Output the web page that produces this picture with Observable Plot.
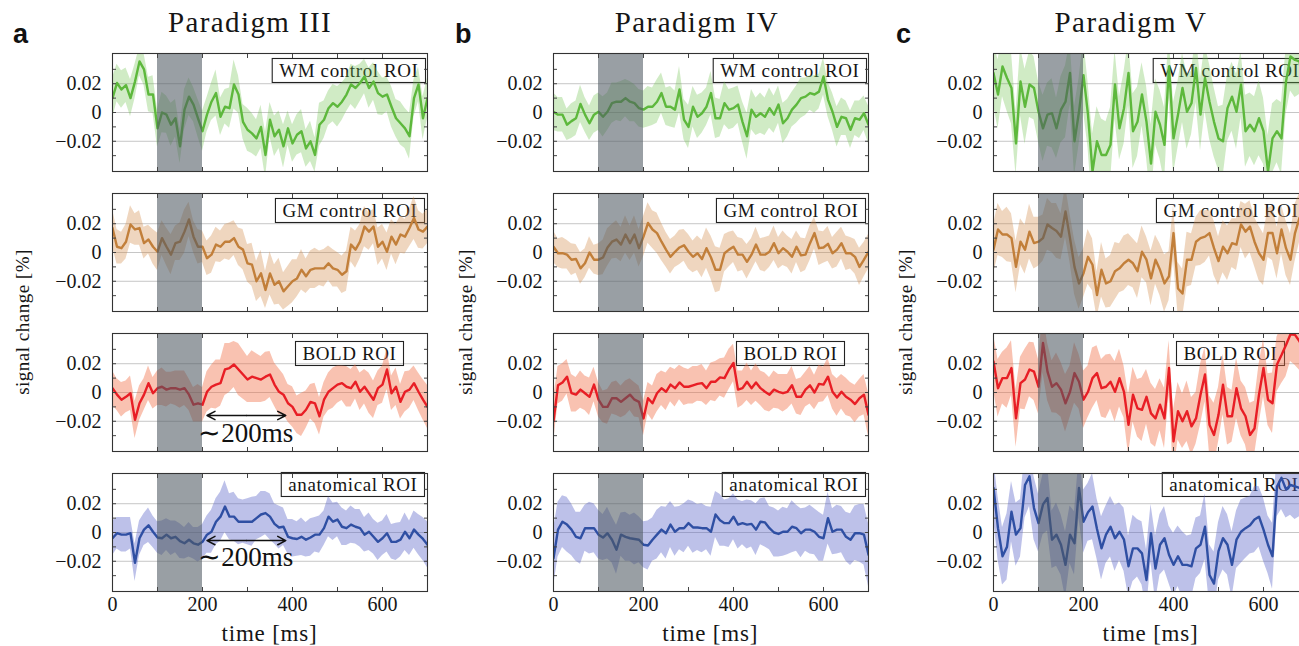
<!DOCTYPE html>
<html><head><meta charset="utf-8">
<script src="https://cdn.jsdelivr.net/npm/d3@7"></script>
<script src="https://cdn.jsdelivr.net/npm/@observablehq/plot@0.6"></script>
<style>
html,body{margin:0;padding:0;background:#fff;overflow:hidden;}
#fig{position:relative;width:1299px;height:646px;overflow:hidden;background:#fff;}
</style></head><body><div id="fig"></div>
<script>
// ---------- labels / categories ----------
const paradigms = ["Paradigm III", "Paradigm IV", "Paradigm V"];
const panelLetters = ["a", "b", "c"];
const roiLabels = ["WM control ROI", "GM control ROI", "BOLD ROI", "anatomical ROI"];
const yTicks = [-0.02, 0, 0.02];
const yMinorTicks = [-0.03, -0.02, -0.01, 0, 0.01, 0.02, 0.03];
const xTicks = [0, 200, 400, 600];
const xMinorTicks = [0, 100, 200, 300, 400, 500, 600, 700];
const stimulus = [100, 200];            // grey stimulus window (ms)
const time = d3.range(0, 701, 10);      // sample times (ms)

// ---------- Paradigm III ----------
const p3_wm = [0.01,0.0205,0.016,0.019,0.01,0.0215,0.0355,0.03,0.0125,0.0125,
 -0.011,0,-0.0015,-0.0085,-0.004,-0.0235,0.002,0.011,0.0055,-0.004,
 -0.013,-0.0015,0.0075,0.0135,-0.003,0.004,0.003,0.0195,0.0125,-0.0065,
 -0.012,-0.0145,-0.018,-0.01,-0.0295,-0.005,-0.0165,-0.012,-0.0235,-0.011,
 -0.0215,-0.0155,-0.013,-0.025,-0.02,-0.0295,-0.0085,-0.005,0.003,0.0065,
 0.004,0.0075,0.0125,0.0195,0.017,0.0205,0.025,0.017,0.0215,0.0135,
 0.011,0.0125,0.004,-0.004,-0.0075,-0.011,-0.0165,0.01,0.0195,-0.004,
 0.01];
const p3_gm = [0.017,0.004,0.003,0.0075,0.0195,0.016,0.017,0.0065,0.009,0.004,
 0.0005,0.01,0.004,-0.0015,0.0065,0.0075,0.0145,0.023,0.011,0.004,
 0.004,-0.004,-0.0015,0.0055,0.004,0.0075,0.0075,0.01,0.004,0.002,
 -0.0075,-0.0085,-0.02,-0.0145,-0.026,-0.0145,-0.0225,-0.02,-0.027,-0.0235,
 -0.02,-0.018,-0.012,-0.0165,-0.012,-0.011,-0.011,-0.011,-0.0075,-0.011,
 -0.012,-0.0155,-0.013,0.0055,0.002,0.0075,0.018,0.0145,0.018,0.004,
 0.0075,0.0005,0.011,0.0055,0.0125,0.011,0.017,0.024,0.016,0.0145,
 0.018];
const p3_bold = [0.003,-0.0015,-0.005,-0.003,-0.0005,-0.019,-0.0075,-0.0015,0.0065,-0.0005,
 0.003,0.004,0.002,0.003,0.003,0.002,0.003,-0.0015,-0.0085,-0.0075,
 -0.0085,0.0005,0.004,0.0055,0.0065,0.016,0.017,0.0195,0.016,0.0125,
 0.009,0.011,0.01,0.009,0.011,0.0125,0.0055,0.0005,-0.0015,-0.0075,
 -0.01,-0.0155,-0.0155,-0.012,-0.0065,-0.0075,-0.0165,-0.005,0.0005,0.003,
 0.0055,0.0065,0.004,0.003,0.0075,0.0005,0.004,-0.0005,-0.005,0.003,
 0.0055,0.016,-0.0005,0.004,-0.0065,0.0005,0.002,0.0065,0.0005,-0.005,
 -0.01];
const p3_anat = [-0.004,-0.0005,-0.0015,-0.0015,-0.0005,-0.021,-0.004,0.002,0.005,0.0005,
 -0.0035,-0.004,-0.0015,-0.004,-0.003,-0.006,-0.0075,-0.005,-0.0075,-0.0085,
 -0.0065,-0.0015,0.0005,0.0075,0.011,0.018,0.011,0.011,0.0075,0.0075,
 0.0075,0.0075,0.01,0.0125,0.0135,0.011,0.006,0.0035,0.004,-0.003,
 -0.004,-0.0045,-0.003,-0.005,-0.0035,-0.0015,-0.0015,0.003,0.011,0.0075,
 0.009,0.004,0.003,0.0055,0.004,0.003,-0.0015,0.0005,-0.003,-0.0065,
 -0.004,-0.0005,-0.0065,-0.0065,-0.005,0.0005,-0.004,0.002,-0.0015,-0.0045,
 -0.0085];
// confidence half-widths
const p3_wm_ci = [0.014,0.013,0.013,0.012,0.013,0.012,0.010,0.011,0.012,0.013,
 0.013,0.014,0.013,0.015,0.013,0.012,0.014,0.013,0.012,0.013,
 0.014,0.012,0.013,0.016,0.013,0.012,0.014,0.017,0.013,0.012,
 0.015,0.014,0.013,0.015,0.016,0.012,0.014,0.013,0.015,0.012,
 0.013,0.014,0.015,0.013,0.014,0.012,0.015,0.013,0.012,0.013,
 0.014,0.013,0.012,0.014,0.015,0.013,0.012,0.014,0.013,0.015,
 0.013,0.012,0.014,0.013,0.015,0.014,0.016,0.013,0.012,0.015,
 0.014];
const p3_gm_ci = [0.013,0.012,0.011,0.012,0.013,0.011,0.012,0.011,0.010,0.012,
 0.013,0.012,0.013,0.014,0.012,0.013,0.015,0.012,0.011,0.012,
 0.011,0.012,0.013,0.012,0.011,0.012,0.013,0.012,0.013,0.014,
 0.013,0.015,0.014,0.016,0.013,0.015,0.014,0.016,0.013,0.014,
 0.015,0.013,0.014,0.012,0.013,0.014,0.012,0.013,0.012,0.013,
 0.012,0.013,0.014,0.012,0.013,0.012,0.014,0.013,0.012,0.013,
 0.012,0.013,0.012,0.014,0.013,0.012,0.013,0.015,0.013,0.012,
 0.012];
const p3_bold_ci = [0.012,0.011,0.012,0.011,0.012,0.013,0.012,0.011,0.012,0.011,
 0.012,0.013,0.012,0.011,0.012,0.013,0.012,0.011,0.012,0.013,
 0.012,0.014,0.015,0.017,0.016,0.018,0.017,0.016,0.018,0.017,
 0.016,0.018,0.017,0.016,0.017,0.016,0.015,0.016,0.014,0.013,
 0.014,0.013,0.015,0.013,0.012,0.014,0.013,0.012,0.013,0.014,
 0.013,0.012,0.014,0.013,0.012,0.013,0.012,0.014,0.013,0.012,
 0.013,0.014,0.012,0.013,0.012,0.014,0.013,0.012,0.013,0.014,
 0.015];
const p3_anat_ci = [0.012,0.011,0.012,0.012,0.011,0.013,0.012,0.011,0.012,0.011,
 0.011,0.012,0.011,0.012,0.011,0.012,0.011,0.012,0.011,0.012,
 0.012,0.013,0.015,0.016,0.017,0.018,0.016,0.017,0.016,0.015,
 0.016,0.017,0.015,0.016,0.015,0.016,0.014,0.015,0.013,0.012,
 0.013,0.012,0.013,0.012,0.013,0.012,0.013,0.012,0.014,0.013,
 0.012,0.013,0.012,0.013,0.012,0.013,0.012,0.013,0.012,0.013,
 0.012,0.013,0.012,0.013,0.012,0.013,0.012,0.013,0.014,0.015,
 0.016];

// ---------- Paradigm IV ----------
const p4_wm = [0.0005,-0.0015,-0.0015,-0.0085,-0.006,-0.004,0.006,-0.0015,-0.0075,-0.0015,
 0.0005,-0.003,0.0005,0.0065,0.0075,0.0075,0.01,0.0075,0.0065,0.003,
 0.002,0.004,0.004,0.0075,0.0135,0.004,0.004,0.002,0.016,-0.005,
 -0.01,0.004,-0.003,-0.0005,0.004,0.0135,-0.004,-0.004,0.0065,0.002,
 0.003,0.0055,-0.0065,-0.0165,0.002,-0.003,-0.0005,-0.003,0.003,-0.0015,
 0.0055,-0.0075,-0.004,0.002,0.0055,0.01,0.011,0.0135,0.0125,0.0145,
 0.025,0.009,0.0005,-0.01,-0.003,-0.004,-0.012,-0.004,-0.005,-0.0005,
 -0.0085];
const p4_gm = [0.004,-0.0005,-0.0005,-0.0015,-0.005,-0.0045,-0.011,-0.0075,0,-0.005,
 -0.005,-0.0035,0.0035,0.0075,0.009,0.0055,0.0125,0.0065,0.0125,0.003,
 0.011,0.0205,0.016,0.0135,0.0075,0.002,-0.003,0.0005,0.0035,0.005,
 0.0005,-0.003,-0.0005,-0.0045,0.003,-0.0035,-0.012,-0.012,-0.0005,0.002,
 0.004,-0.0015,-0.0015,-0.0065,-0.0015,0.0055,-0.0015,-0.0015,0.0005,0.0065,
 -0.0005,0.003,0.0005,-0.003,0.004,-0.002,-0.0015,0.0065,0.0135,0.003,
 0.0035,0.006,-0.0005,0.002,0.0065,-0.0005,-0.0005,-0.003,-0.01,-0.005,
 0.0005];
const p4_bold = [-0.02,0.005,0.007,0.011,-0.0005,-0.0015,0.002,-0.0005,-0.003,0.0055,
 -0.005,-0.01,-0.01,-0.004,-0.004,-0.0065,-0.004,-0.0015,-0.005,-0.0065,
 -0.018,-0.004,-0.0075,-0.0005,0.003,0.0005,0.0055,0.003,0.007,0.004,
 0.004,0.005,0.006,0.0065,0.003,0.0075,0.0075,0.0105,0.01,0.016,
 0.0205,0.002,0.003,0.0075,0.003,0.007,0.003,0.0005,-0.0015,0.002,
 0.0005,-0.0005,0.0005,0.005,-0.003,-0.003,0.002,0.005,0,0.006,
 0.0055,0.011,0.0005,-0.0035,0.0005,-0.003,-0.005,-0.008,-0.004,-0.0015,
 -0.0155];
const p4_anat = [-0.018,0.002,0.0075,0.0055,0.002,-0.003,-0.004,0.003,0.003,0.003,
 -0.0015,-0.0035,-0.0005,-0.005,-0.012,-0.0015,-0.003,-0.004,-0.0045,-0.005,
 -0.0085,-0.009,-0.005,-0.0015,0.002,-0.0005,0.0055,0.0005,0.003,0.003,
 0.0065,0.0035,0.0035,0.003,0.003,0.0005,0.0125,0.0085,0.0065,0.0065,
 0.011,0.0055,0.0065,0.0055,0.006,0.002,0.0075,0.007,0.003,0,
 -0.001,0.0005,0.0005,0.004,0.003,-0.0005,0.002,0.002,0.0005,-0.003,
 -0.004,0.01,0.0005,0.002,0.002,-0.003,-0.005,-0.0005,-0.0005,-0.0015,
 -0.0155];
const p4_wm_ci = [0.013,0.012,0.012,0.011,0.012,0.012,0.013,0.012,0.012,0.013,
 0.013,0.014,0.013,0.014,0.013,0.014,0.013,0.014,0.013,0.013,
 0.013,0.014,0.013,0.015,0.014,0.013,0.014,0.013,0.016,0.014,
 0.015,0.014,0.015,0.014,0.013,0.015,0.014,0.013,0.015,0.014,
 0.014,0.013,0.014,0.016,0.014,0.013,0.014,0.013,0.014,0.013,
 0.013,0.014,0.013,0.012,0.013,0.014,0.013,0.012,0.013,0.012,
 0.013,0.012,0.013,0.014,0.013,0.012,0.013,0.012,0.013,0.012,
 0.013];
const p4_gm_ci = [0.011,0.010,0.011,0.010,0.011,0.010,0.011,0.010,0.011,0.010,
 0.011,0.012,0.013,0.012,0.013,0.012,0.013,0.012,0.013,0.013,
 0.014,0.014,0.013,0.014,0.013,0.012,0.012,0.011,0.012,0.011,
 0.012,0.011,0.012,0.013,0.014,0.015,0.016,0.015,0.013,0.012,
 0.011,0.012,0.011,0.012,0.011,0.012,0.011,0.012,0.011,0.012,
 0.011,0.012,0.011,0.012,0.011,0.012,0.011,0.012,0.011,0.012,
 0.011,0.012,0.011,0.012,0.011,0.012,0.011,0.012,0.013,0.012,
 0.012];
const p4_bold_ci = [0.015,0.013,0.013,0.012,0.013,0.012,0.013,0.012,0.013,0.012,
 0.012,0.011,0.012,0.011,0.012,0.011,0.012,0.011,0.012,0.011,
 0.012,0.011,0.012,0.013,0.012,0.013,0.012,0.013,0.012,0.013,
 0.012,0.013,0.012,0.013,0.012,0.013,0.014,0.013,0.014,0.014,
 0.013,0.013,0.012,0.013,0.012,0.013,0.012,0.013,0.012,0.013,
 0.012,0.013,0.012,0.013,0.012,0.013,0.012,0.013,0.012,0.013,
 0.012,0.013,0.012,0.013,0.012,0.013,0.012,0.013,0.013,0.014,
 0.015];
const p4_anat_ci = [0.020,0.019,0.018,0.019,0.018,0.017,0.018,0.016,0.018,0.017,
 0.017,0.016,0.018,0.016,0.017,0.015,0.017,0.016,0.018,0.016,
 0.016,0.017,0.015,0.017,0.016,0.018,0.016,0.017,0.015,0.017,
 0.016,0.018,0.016,0.017,0.015,0.017,0.016,0.018,0.016,0.017,
 0.016,0.017,0.015,0.017,0.016,0.018,0.016,0.017,0.015,0.017,
 0.016,0.017,0.016,0.018,0.016,0.017,0.015,0.017,0.016,0.017,
 0.016,0.018,0.016,0.017,0.016,0.017,0.018,0.019,0.020,0.021,
 0.022];

// ---------- Paradigm V ----------
const p5_wm = [0.0275,0.0125,0.032,0.024,0.017,-0.0215,0.0215,0.004,0.0195,0.017,
 0.0005,-0.011,-0.0015,-0.0005,-0.011,0.002,0.0075,0.0275,-0.02,0.0005,
 0.026,-0.0015,-0.041,-0.02,-0.0295,-0.0295,-0.0225,0.0195,-0.011,0.003,
 0.0275,-0.013,-0.0065,0.0125,-0.0065,-0.0355,0.0005,-0.0085,-0.0225,0.032,
 -0.018,-0.0015,0.017,0.0005,0.0065,0.031,-0.0015,0.024,0.0075,-0.0065,
 -0.018,-0.02,0.003,0.011,0.0005,0.0195,-0.013,-0.0085,-0.013,-0.004,
 -0.013,-0.041,-0.018,-0.013,-0.018,0.0215,0.039,0.0365,0.0355,0.015,
 0.028];
const p5_gm = [0.002,0.016,0.0125,0.0125,0.01,-0.01,0.0075,0.002,0.0145,0.0065,
 0.0075,0.01,0.0195,0.017,0.015,0.011,0.0285,0.01,-0.01,-0.0215,
 -0.0145,-0.003,-0.0085,-0.0295,-0.012,-0.0215,-0.02,-0.013,-0.011,-0.0075,
 -0.005,-0.0075,-0.013,0.0005,-0.005,-0.018,-0.005,-0.012,-0.0215,-0.0165,
 0.0135,-0.025,-0.0285,-0.005,-0.005,0.0075,0.01,0.011,0.0135,0.003,
 -0.006,0.004,-0.0005,0.0065,0.0055,0.0195,0.0145,0.018,0.0075,-0.0005,
 -0.005,0.0135,0.0135,-0.0005,0.016,0.003,-0.005,0.0135,0.024,0.015,
 0.019];
const p5_bold = [0.0215,0.003,0.01,0.01,0.017,-0.018,0.0065,0.009,0.016,0.0145,
 0.004,0.0345,0.0145,0.004,0.0065,0.002,-0.0075,0.0005,0.0135,0.0075,
 -0.005,0.0005,0.01,0.0135,0.003,0.004,0.0075,0.0005,0.01,0.0005,
 -0.0225,-0.0015,-0.011,-0.012,-0.003,-0.0145,-0.018,-0.0085,-0.018,0.017,
 -0.034,-0.013,-0.02,-0.013,-0.0235,-0.018,-0.0015,0.0125,-0.0225,-0.0295,
 -0.0155,0.0055,-0.0165,-0.0165,0.003,-0.011,-0.0165,-0.0295,-0.025,-0.0015,
 0.017,-0.005,-0.0075,0.0195,0.026,0.033,0.0405,0.04,0.0355,0.03,
 0.034];
const p5_anat = [0.031,0.003,-0.0165,-0.01,0.0145,-0.0015,0.003,0.033,0.039,0.017,
 0.0065,0.0195,0.024,-0.005,-0.0015,-0.0085,-0.0225,-0.0015,-0.0075,0.031,
 0.0075,0.014,0.018,0.0025,-0.011,-0.0015,0.004,-0.004,0.0005,-0.005,
 -0.0235,-0.011,-0.011,-0.0145,-0.033,-0.0005,-0.025,-0.0085,-0.004,-0.0155,
 -0.0225,-0.0165,-0.0225,-0.0225,-0.0235,-0.011,-0.0085,0.004,-0.0295,-0.0355,
 -0.013,-0.004,-0.0085,-0.0225,-0.005,0.0005,0.003,0.005,0.009,0.011,
 0.002,-0.0085,-0.0165,0.032,0.038,0.03,0.033,0.032,0.031,0.026,
 0.03];
const p5_wm_ci = [0.022,0.024,0.021,0.023,0.025,0.022,0.024,0.026,0.023,0.022,
 0.021,0.023,0.022,0.024,0.021,0.023,0.025,0.022,0.024,0.023,
 0.025,0.023,0.026,0.024,0.025,0.023,0.026,0.024,0.022,0.025,
 0.023,0.026,0.024,0.022,0.025,0.027,0.023,0.024,0.026,0.022,
 0.025,0.023,0.024,0.026,0.022,0.024,0.025,0.023,0.026,0.024,
 0.022,0.025,0.023,0.024,0.026,0.023,0.025,0.022,0.024,0.026,
 0.023,0.025,0.024,0.022,0.025,0.023,0.024,0.026,0.023,0.025,
 0.024];
const p5_gm_ci = [0.017,0.018,0.016,0.019,0.017,0.018,0.016,0.017,0.019,0.018,
 0.017,0.016,0.018,0.017,0.019,0.016,0.018,0.017,0.019,0.018,
 0.017,0.019,0.018,0.016,0.019,0.017,0.018,0.020,0.017,0.019,
 0.018,0.017,0.019,0.018,0.016,0.019,0.017,0.018,0.020,0.017,
 0.019,0.018,0.017,0.019,0.018,0.017,0.019,0.018,0.016,0.019,
 0.017,0.018,0.019,0.017,0.018,0.016,0.019,0.018,0.017,0.019,
 0.018,0.017,0.019,0.018,0.017,0.019,0.018,0.020,0.017,0.018,
 0.019];
const p5_bold_ci = [0.019,0.020,0.018,0.021,0.019,0.020,0.018,0.021,0.019,0.020,
 0.019,0.021,0.020,0.018,0.021,0.019,0.020,0.018,0.021,0.019,
 0.020,0.018,0.021,0.019,0.020,0.022,0.019,0.021,0.020,0.018,
 0.021,0.019,0.020,0.022,0.019,0.021,0.020,0.018,0.021,0.019,
 0.022,0.020,0.019,0.021,0.020,0.018,0.021,0.019,0.020,0.022,
 0.019,0.021,0.020,0.018,0.021,0.019,0.020,0.022,0.019,0.021,
 0.020,0.018,0.021,0.019,0.020,0.022,0.019,0.021,0.020,0.019,
 0.021];
const p5_anat_ci = [0.021,0.022,0.020,0.023,0.021,0.022,0.020,0.023,0.021,0.022,
 0.020,0.021,0.023,0.020,0.022,0.021,0.023,0.020,0.022,0.021,
 0.022,0.020,0.023,0.021,0.022,0.020,0.021,0.023,0.020,0.022,
 0.021,0.023,0.020,0.022,0.021,0.020,0.023,0.021,0.022,0.020,
 0.022,0.021,0.023,0.020,0.022,0.021,0.020,0.023,0.021,0.022,
 0.020,0.022,0.021,0.023,0.020,0.022,0.021,0.020,0.023,0.021,
 0.022,0.020,0.023,0.021,0.022,0.020,0.021,0.023,0.020,0.022,
 0.021];

// delay annotations (Paradigm III, BOLD and anatomical rows)
const delayArrows = [
  {row: 2, x1: 210, x2: 385, y: -0.016, tx: 296, ty: -0.0285},
  {row: 3, x1: 210, x2: 385, y: -0.0056, tx: 296, ty: -0.017}
];

// ---------- assembly ----------
const series = [[p3_wm, p3_gm, p3_bold, p3_anat], [p4_wm, p4_gm, p4_bold, p4_anat], [p5_wm, p5_gm, p5_bold, p5_anat]];
const bands = [[p3_wm_ci, p3_gm_ci, p3_bold_ci, p3_anat_ci], [p4_wm_ci, p4_gm_ci, p4_bold_ci, p4_anat_ci], [p5_wm_ci, p5_gm_ci, p5_bold_ci, p5_anat_ci]];

// ---------- style ----------
const lineColors = ["#5db83c", "#c27f3a", "#e81e25", "#2f4fa3"];
const bandColors = ["#6cc04a", "#d08a48", "#f06e46", "#5a64c8"];
const bandOpacity = [0.32, 0.35, 0.42, 0.4];
const SERIF = "'Liberation Serif', 'Times New Roman', serif";
const FRAME_W = 315, FRAME_H = 118;
const frameLeft = [112, 552.7, 993];
const frameTop = [53, 193, 333, 473];
const ML = 70, MR = 4, MT = 4;
const labelDx = [-9, -10, -31, -10];
const labelDy = [10, 10, 13, 4];
const fmtY = d => d === 0 ? "0" : (d < 0 ? "\u2212" : "") + Math.abs(d).toFixed(2);

const fig = document.getElementById("fig");

function panel(ci, ri) {
  const vals = series[ci][ri], band = bands[ci][ri];
  const rows = time.map((t, i) => ({t, v: vals[i], lo: vals[i] - band[i], hi: vals[i] + band[i]}));
  const bottom = ri === 3;
  const MB = bottom ? 48 : 4;
  const arrows = ci === 0 ? delayArrows.filter(a => a.row === ri) : [];
  // double-headed arrow = two arrows from the midpoint outwards
  const halves = arrows.flatMap(a => [{from: (a.x1 + a.x2) / 2, to: a.x1, y: a.y}, {from: (a.x1 + a.x2) / 2, to: a.x2, y: a.y}]);
  const marks = [
    Plot.ruleY(yTicks, {stroke: "#c6c6c6", strokeWidth: 1}),
    Plot.text([roiLabels[ri]], {text: d => d, frameAnchor: "top-right", textAnchor: "end", lineAnchor: "top",
      dx: labelDx[ri], dy: labelDy[ri], fontSize: 19, fill: "#151515"}),
    Plot.areaY(rows, {x: "t", y1: "lo", y2: "hi", fill: bandColors[ri], fillOpacity: bandOpacity[ri], clip: true}),
    Plot.lineY(rows, {x: "t", y: "v", stroke: lineColors[ri], strokeWidth: 2.4, strokeLinejoin: "round", clip: true}),
    Plot.rect([stimulus], {x1: d => d[0], x2: d => d[1], fill: "#4f5962", fillOpacity: 0.58}),
    Plot.arrow(halves, {x1: "from", x2: "to", y1: "y", y2: "y", stroke: "#111", strokeWidth: 1.5, headLength: 9, headAngle: 55}),
    Plot.text(arrows, {x: "tx", y: "ty", text: () => "\u223C200ms", fontSize: 27, fill: "#111"}),
    Plot.axisY({ticks: yTicks, tickSize: 0, tickPadding: 11, tickFormat: fmtY, fontSize: 20, label: null}),
    Plot.axisY({ticks: yMinorTicks, tickSize: -4, tickFormat: () => "", label: null, anchor: "left", stroke: "#444"}),
    Plot.axisY({ticks: yMinorTicks, tickSize: -4, tickFormat: () => "", label: null, anchor: "right", stroke: "#444"}),
    Plot.axisX({ticks: xMinorTicks, tickSize: -4, tickFormat: () => "", label: null, anchor: "top", stroke: "#444"}),
    Plot.axisX({ticks: xMinorTicks, tickSize: -4, tickFormat: () => "", label: null, anchor: "bottom", stroke: "#444"}),
    Plot.frame({stroke: "#333", strokeWidth: 1.1})
  ];
  if (bottom) marks.push(Plot.axisX({ticks: xTicks, tickSize: 0, tickPadding: 5, fontSize: 20, label: null, anchor: "bottom"}));
  const svg = Plot.plot({
    width: ML + FRAME_W + MR, height: MT + FRAME_H + MB,
    marginLeft: ML, marginRight: MR, marginTop: MT, marginBottom: MB,
    x: {domain: [0, 700]},
    y: {domain: [-0.041, 0.041]},
    style: {fontFamily: SERIF, fontSize: "20px", color: "#151515", background: "transparent", overflow: "visible",
      position: "absolute", left: (frameLeft[ci] - ML) + "px", top: (frameTop[ri] - MT) + "px", maxWidth: "none"},
    marks
  });
  fig.appendChild(svg);
  // box around ROI label
  d3.select(svg).selectAll("text").filter(function() { return this.textContent === roiLabels[ri]; }).each(function() {
    this.style.letterSpacing = "0.6px";
    const bb = this.getBBox();
    const r = document.createElementNS("http://www.w3.org/2000/svg", "rect");
    r.setAttribute("x", bb.x - 7); r.setAttribute("y", bb.y - 1.5);
    r.setAttribute("width", bb.width + 14); r.setAttribute("height", bb.height + 3);
    r.setAttribute("fill", "none"); r.setAttribute("stroke", "#222"); r.setAttribute("stroke-width", 1.1);
    const tr = this.getAttribute("transform"); if (tr) r.setAttribute("transform", tr);
    this.parentNode.insertBefore(r, this);
  });
}

for (let c = 0; c < 3; c++) for (let r = 0; r < 4; r++) panel(c, r);

// ---------- overlay text ----------
const ov = d3.select(fig).append("svg").attr("width", 1299).attr("height", 646)
  .style("position", "absolute").style("left", 0).style("top", 0).style("pointer-events", "none");
const titleX = [250, 697, 1131];
const letterX = [13, 455, 896];
const ylabX = [22, 465, 905];
paradigms.forEach((p, i) => {
  ov.append("text").attr("x", titleX[i]).attr("y", 32).attr("text-anchor", "middle")
    .style("font-family", SERIF).style("font-size", "29px").style("letter-spacing", "1.4px").attr("fill", "#151515").text(p);
  ov.append("text").attr("x", letterX[i]).attr("y", 43)
    .style("font-family", "'Liberation Sans', Arial, sans-serif").style("font-weight", "bold").style("font-size", "27px").attr("fill", "#111").text(panelLetters[i]);
  ov.append("text").attr("transform", `translate(${ylabX[i]},322) rotate(-90)`).attr("text-anchor", "middle").attr("dominant-baseline", "central")
    .style("font-family", SERIF).style("font-size", "19px").style("letter-spacing", "0.5px").attr("fill", "#151515").text("signal change [%]");
  ov.append("text").attr("x", frameLeft[i] + FRAME_W / 2).attr("y", 633).attr("text-anchor", "middle").attr("dominant-baseline", "central")
    .style("font-family", SERIF).style("font-size", "23px").style("letter-spacing", "0.8px").attr("fill", "#151515").text("time [ms]");
});
</script>
</body></html>
